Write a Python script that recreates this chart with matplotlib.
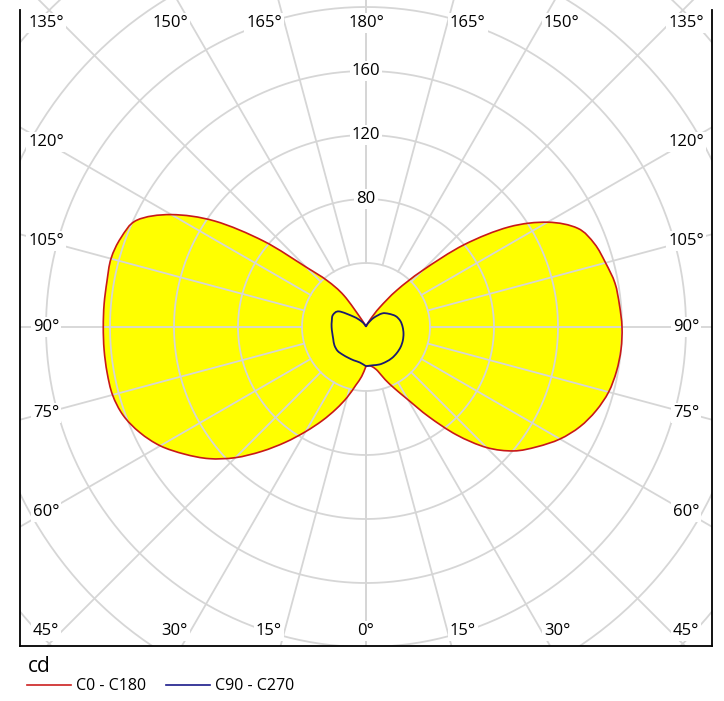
import numpy as np
import matplotlib as mpl
mpl.use("Agg")
import matplotlib.pyplot as plt
from matplotlib.lines import Line2D
from matplotlib.path import Path
from matplotlib.patches import PathPatch

plt.rcParams['font.family'] = ['Open Sans', 'DejaVu Sans']

# luminous intensity, cd, gamma 0..180 in 5 deg steps
gamma_red = np.arange(0, 181, 5)
c0 = [24.5, 24.3, 25.5, 28.5, 35, 42.5, 52.5, 68.5, 88, 106.5, 120.5, 130.5, 140,
      147.5, 153, 157, 159, 160, 160, 159, 158, 155, 152, 146, 131, 109, 80, 50,
      30, 15, 6, 2, 1, 0.5, 0.2, 0.1, 0]
c180 = [24.5, 31, 37, 45.5, 54.5, 64.5, 75.5, 88, 101.5, 115.5, 128, 138.5, 148.5,
        156, 161.5, 164, 164.3, 164.3, 164.2, 164.3, 164.4, 165, 163, 158, 140.5,
        115.5, 83.5, 53, 38, 24, 5, 1, 0.5, 0.3, 0.2, 0.1, 0]

# gamma 0..180 in 10 deg steps
gamma_blue = np.arange(0, 181, 10)
c90 = [24.5, 24.3, 24.9, 25.1, 25.3, 25.2, 25, 24.5, 23.8, 22.9, 21.8, 19.8, 16.5,
       13.2, 7.5, 3, 1.2, 0.4, 0]
c270 = [24.5, 22.5, 22.2, 22.2, 22.6, 23.2, 22.8, 21.8, 21.4, 21.5, 21.7, 22, 19.5,
        10, 5, 2, 0.8, 0.3, 0]

rings = [40, 80, 120, 160, 200, 240, 280, 320]
ring_labels = [80, 120, 160]
spoke_angles = np.arange(0, 181, 15)

W, H = 724, 701
fig = plt.figure(figsize=(W / 100, H / 100), dpi=100)
# pixel box of the plot: x 20..712, y 0..646, centre (366, 327), 1 cd = 1.6 px
ax = fig.add_axes([20 / W, 1 - 646 / H, 692 / W, 646 / H])
k = 1.6
ax.set_xlim((20 - 366) / k, (712 - 366) / k)
ax.set_ylim((327 - 646) / k, 327 / k)
ax.set_xticks([])
ax.set_yticks([])
ax.spines['top'].set_visible(False)
for s in ['left', 'right', 'bottom']:
    ax.spines[s].set_linewidth(1.3)
ax.spines['left'].set_bounds((327 - 646) / k, (327 - 10) / k)
ax.spines['right'].set_bounds((327 - 646) / k, (327 - 10) / k)


def xy(g, r, side):
    g = np.radians(g)
    r = np.asarray(r, dtype=float)
    return np.column_stack([side * r * np.sin(g), -r * np.cos(g)])


def smooth_path(pieces):
    # chain open pieces into one closed bezier path (cusps kept at joins)
    verts, codes = [], []
    for n, P in enumerate(pieces):
        T = np.zeros_like(P)
        T[1:-1] = (P[2:] - P[:-2]) / 2
        T[0] = P[1] - P[0]
        T[-1] = P[-1] - P[-2]
        if n == 0:
            verts.append(P[0])
            codes.append(Path.MOVETO)
        for i in range(len(P) - 1):
            verts += [P[i] + T[i] / 3, P[i + 1] - T[i + 1] / 3, P[i + 1]]
            codes += [Path.CURVE4] * 3
    verts.append(pieces[0][0])
    codes.append(Path.CLOSEPOLY)
    return Path(np.array(verts), codes)


# red curve: C0 on the right, C180 on the left
red_path = smooth_path([xy(gamma_red, c0, 1), xy(gamma_red, c180, -1)[::-1]])
blue_path = smooth_path([xy(gamma_blue, c90, 1), xy(gamma_blue, c270, -1)[::-1]])

ax.add_patch(PathPatch(red_path, fc='#ffff00', ec='none', zorder=1))
ax.add_patch(PathPatch(blue_path, fc='#ffff00', ec='none', zorder=1))

# grid
grid_c = '#d6d6d6'
t = np.linspace(0, 2 * np.pi, 400)
for r in rings:
    ax.plot(r * np.cos(t), r * np.sin(t), color=grid_c, lw=1.3, zorder=2)
for g in spoke_angles:
    for side in (1, -1):
        p = xy([g, g], [40, 500], side)
        ax.plot(p[:, 0], p[:, 1], color=grid_c, lw=1.3, zorder=2)

ax.add_patch(PathPatch(red_path, fc='none', ec='#c81818', lw=1.2, zorder=3))
ax.add_patch(PathPatch(blue_path, fc='none', ec='#1a1a70', lw=1.3, zorder=4))

box = dict(fc='white', ec='none', pad=1.5)
for r in ring_labels:
    ax.text(0, r, str(r), ha='center', va='center', fontsize=12, bbox=box, zorder=6)

# angle labels along the frame
XS, YS = 200, 190
for g in spoke_angles:
    for side in ((1,) if g in (0, 180) else (1, -1)):
        dx = side * np.sin(np.radians(g))
        dy = -np.cos(np.radians(g))
        lab = f'{g}°'
        if g in (45, 135):
            x, y, ha = side * XS, np.sign(dy) * YS, 'center'
        else:
            t_side = XS / abs(dx) if abs(dx) > 1e-9 else np.inf
            t_tb = YS / abs(dy) if abs(dy) > 1e-9 else np.inf
            if t_side < t_tb:
                x, y, ha = side * XS, t_side * dy, 'center'
            else:
                x, y = t_tb * dx, np.sign(dy) * YS
                if g in (0, 180):
                    ha = 'center'
                else:
                    ha = 'left' if side > 0 else 'right'
                    x += side * 1.5
        ax.text(x, y, lab, ha=ha, va='center', fontsize=12, bbox=box, zorder=6)

# legend below the chart
fig.text(28 / W, 1 - 667 / H, 'cd', fontsize=15, va='center', ha='left')
fig.add_artist(Line2D([27 / W, 71 / W], [1 - 685 / H] * 2, color='#cc2020', lw=1.2))
fig.text(76 / W, 1 - 686 / H, 'C0 - C180', fontsize=11.5, va='center', ha='left')
fig.add_artist(Line2D([166 / W, 210 / W], [1 - 685 / H] * 2, color='#1a1a8a', lw=1.2))
fig.text(215 / W, 1 - 686 / H, 'C90 - C270', fontsize=11.5, va='center', ha='left')

fig.savefig('out.png', dpi=100)
